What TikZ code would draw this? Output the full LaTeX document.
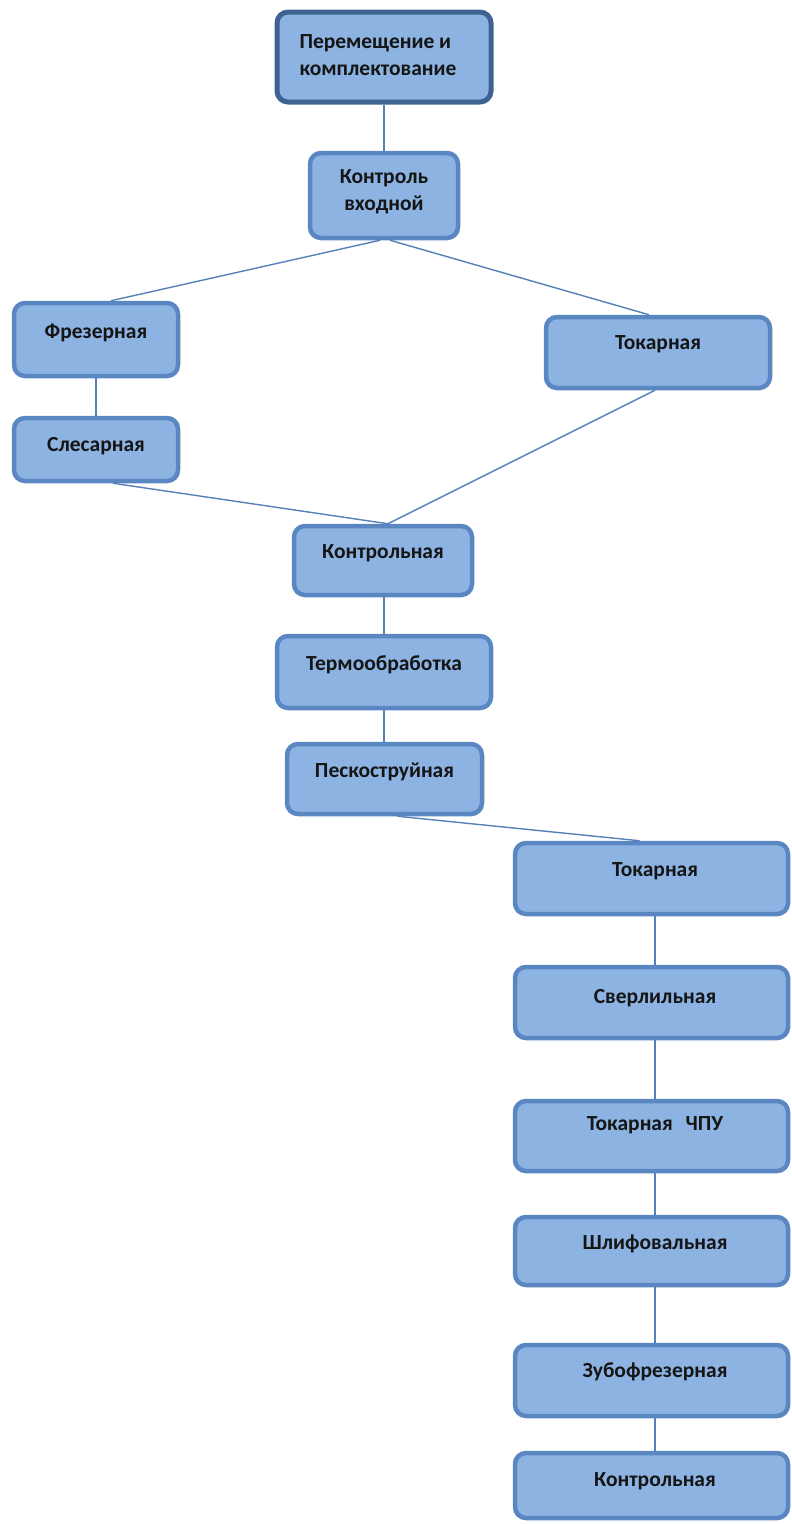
\documentclass[tikz,border=0pt]{standalone}
\usepackage{fontspec}
\setmainfont{Carlito}
\definecolor{boxfill}{HTML}{8DB3E2}
\definecolor{boxedge}{HTML}{5A86C2}
\definecolor{topedge}{HTML}{3F6390}
\definecolor{linkcol}{HTML}{5580B8}
\definecolor{txt}{HTML}{151515}
\tikzset{
  stage/.style={draw=boxedge, line width=4.5pt, fill=boxfill, rounded corners=11pt,
                inner sep=0pt, outer sep=0.5\pgflinewidth},
  headstage/.style={stage, draw=topedge, line width=5pt},
  lbl/.style={text=txt, font=\bfseries\fontsize{21.5}{27}\selectfont, inner sep=0pt},
  link/.style={draw=linkcol, line width=1.4pt},
}
\begin{document}
\begin{tikzpicture}[x=1pt, y=-1pt]
\useasboundingbox (0,0) rectangle (792,1524);

% stages
\node[headstage, minimum width=214, minimum height=90] (mv) at (384,57) {};
\node[lbl, align=left] (mv-t) at (378,55) {Перемещение и\\комплектование};

\node[stage, minimum width=148, minimum height=85] (kv) at (384,195.5) {};
\node[lbl, align=center] (kv-t) at (384,192) {Контроль\\входной};

\node[stage, minimum width=164, minimum height=73] (fr) at (96,339.5) {};
\node[lbl] (fr-t) at (96,333) {Фрезерная};

\node[stage, minimum width=224, minimum height=71] (tk1) at (658,352.5) {};
\node[lbl] (tk1-t) at (658,344) {Токарная};

\node[stage, minimum width=164, minimum height=63] (sl) at (96,449.5) {};
\node[lbl] (sl-t) at (96,446) {Слесарная};

\node[stage, minimum width=178, minimum height=69] (kn1) at (383,560.5) {};
\node[lbl] (kn1-t) at (383,553) {Контрольная};

\node[stage, minimum width=214, minimum height=72] (tm) at (384,672) {};
\node[lbl] (tm-t) at (384,665) {Термообработка};

\node[stage, minimum width=195, minimum height=70] (pk) at (384.5,779) {};
\node[lbl] (pk-t) at (384.5,772) {Пескоструйная};

\node[stage, minimum width=273, minimum height=71] (tk2) at (651.5,878.5) {};
\node[lbl] (tk2-t) at (655,871) {Токарная};

\node[stage, minimum width=273, minimum height=71] (sv) at (651.5,1002.5) {};
\node[lbl] (sv-t) at (655,998) {Сверлильная};

\node[stage, minimum width=273, minimum height=70] (cp) at (651.5,1136) {};
\node[lbl] (cp-t) at (655,1125) {Токарная\hspace{0.6em}ЧПУ};

\node[stage, minimum width=273, minimum height=68] (sh) at (651.5,1251) {};
\node[lbl] (sh-t) at (655,1244) {Шлифовальная};

\node[stage, minimum width=273, minimum height=71] (zb) at (651.5,1380.5) {};
\node[lbl] (zb-t) at (655,1372) {Зубофрезерная};

\node[stage, minimum width=273, minimum height=65] (kn2) at (651.5,1485.5) {};
\node[lbl] (kn2-t) at (655,1481) {Контрольная};

% links between stages
\draw[link] (mv.south) -- (kv.south |- kv.north);
\draw[link] ([xshift=-4]kv.south) -- ([xshift=15]fr.north);
\draw[link] ([xshift=6]kv.south) -- ([xshift=-9]tk1.north);
\draw[link] (fr.south) -- (sl.north);
\draw[link] ([xshift=17]sl.south) -- ([xshift=5]kn1.north);
\draw[link] ([xshift=-3]tk1.south) -- ([xshift=5]kn1.north);
\draw[link] ([xshift=1]kn1.south) -- (tm.north);
\draw[link] (tm.south) -- ([xshift=-0.5]pk.north);
\draw[link] ([xshift=13]pk.south) -- ([xshift=-12]tk2.north);
\draw[link] ([xshift=3.5]tk2.south) -- ([xshift=3.5]sv.north);
\draw[link] ([xshift=3.5]sv.south) -- ([xshift=3.5]cp.north);
\draw[link] ([xshift=3.5]cp.south) -- ([xshift=3.5]sh.north);
\draw[link] ([xshift=3.5]sh.south) -- ([xshift=3.5]zb.north);
\draw[link] ([xshift=3.5]zb.south) -- ([xshift=3.5]kn2.north);
\end{tikzpicture}
\end{document}
